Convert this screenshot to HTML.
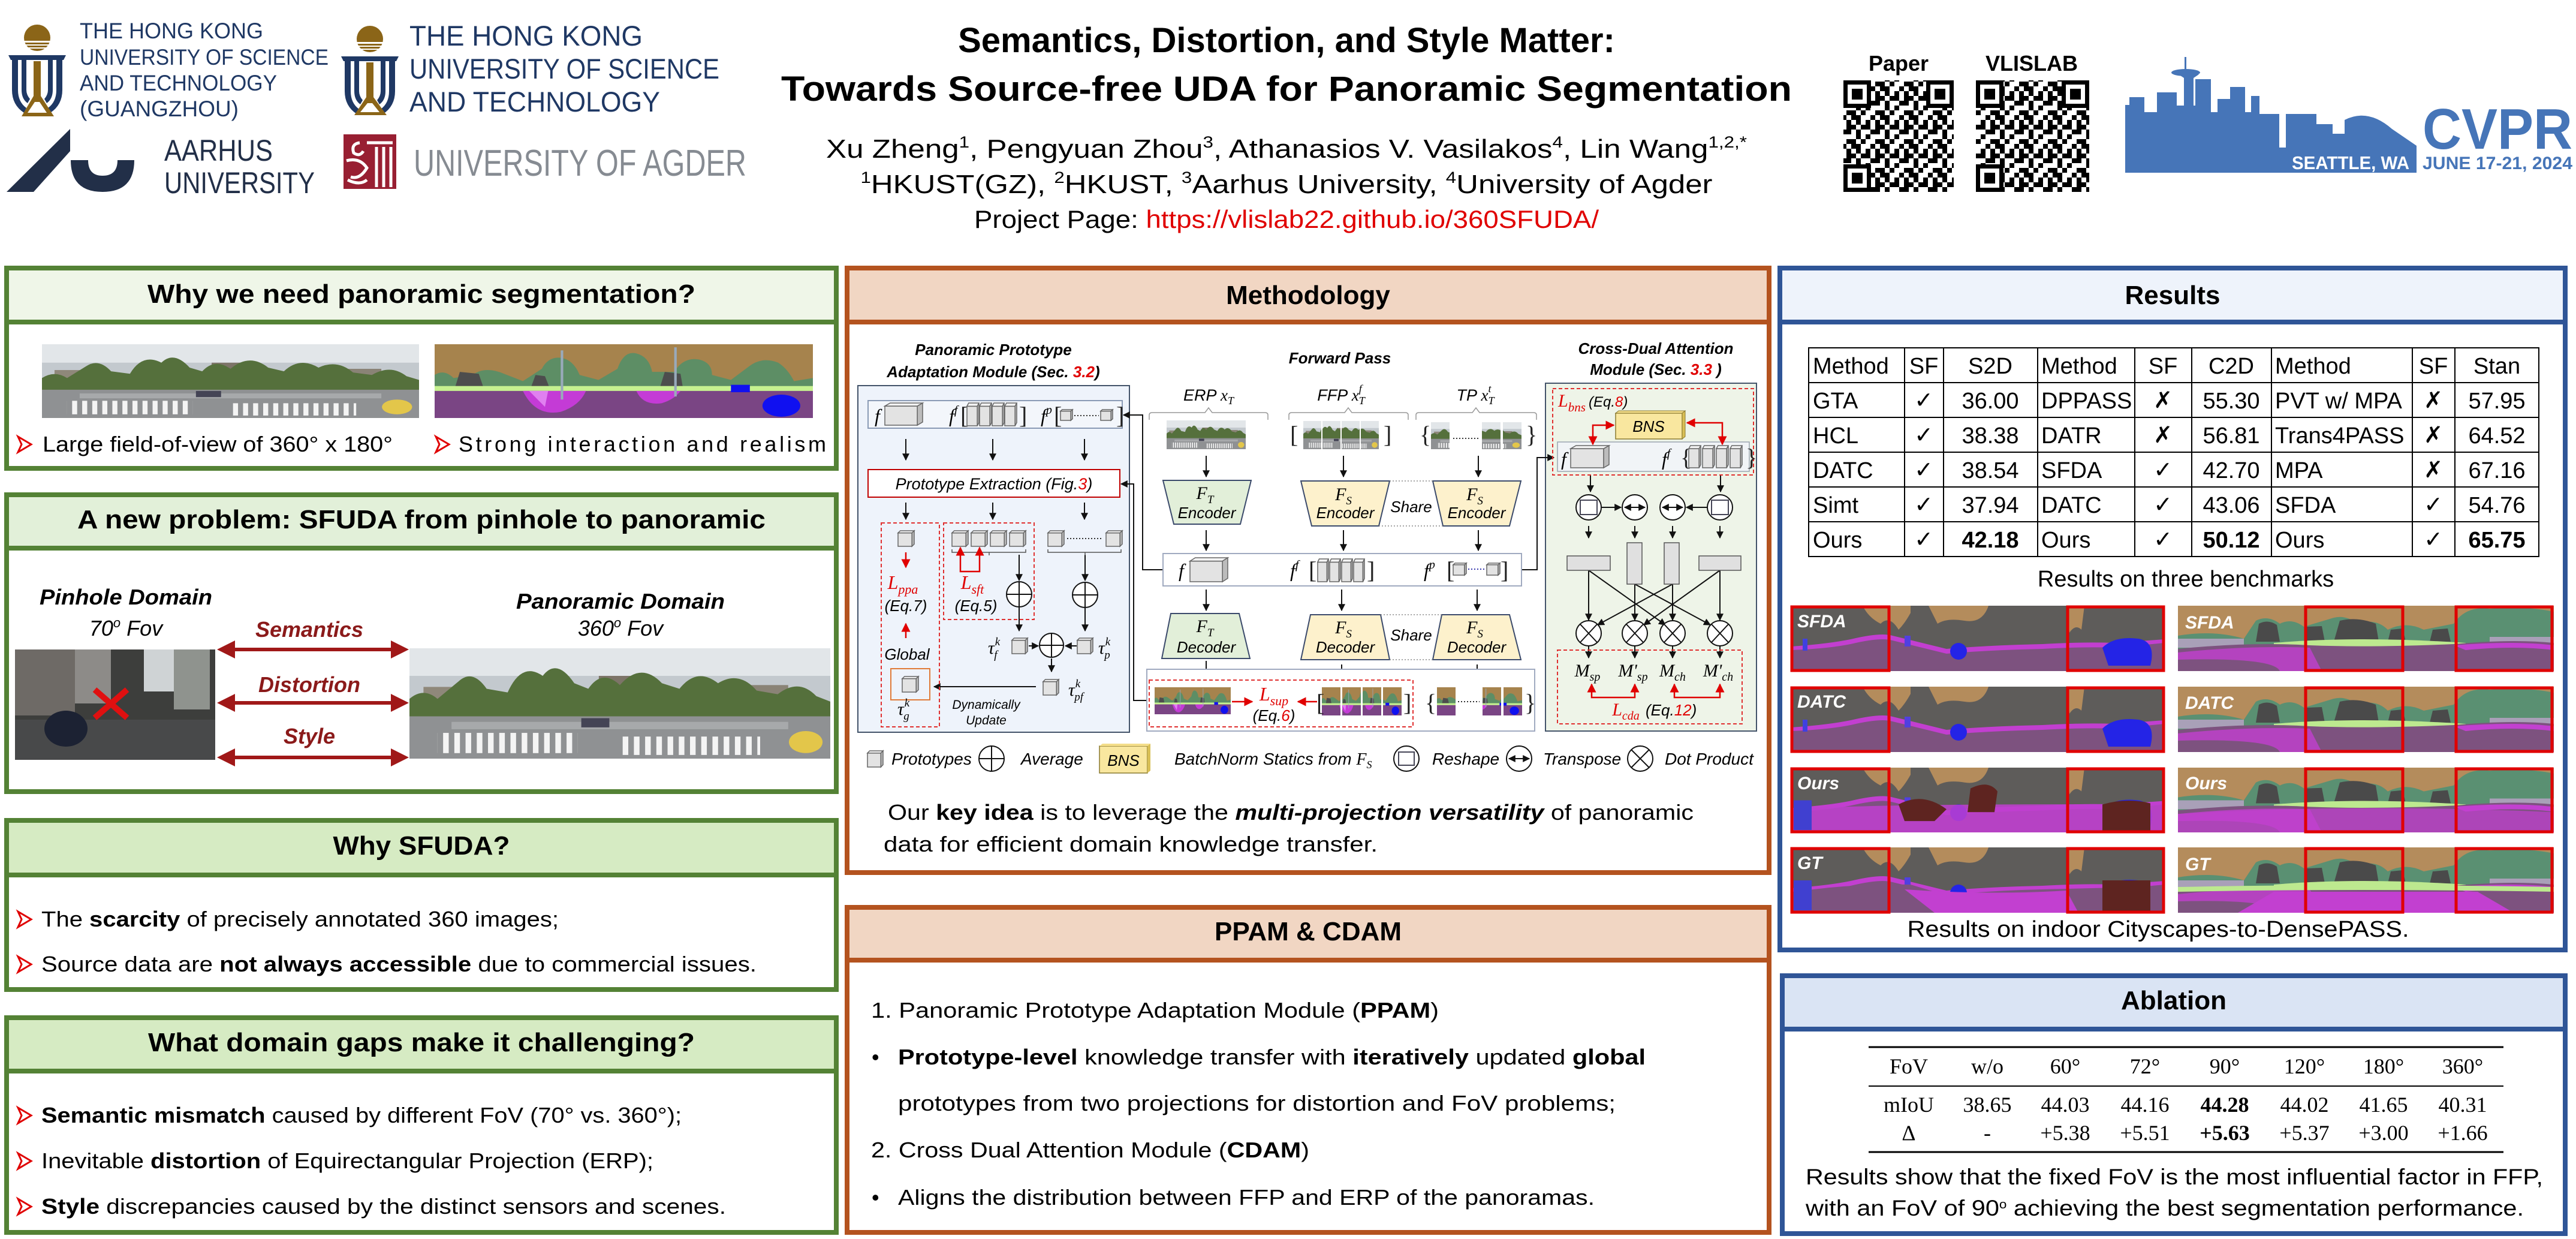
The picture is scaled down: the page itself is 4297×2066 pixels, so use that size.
<!DOCTYPE html>
<html><head><meta charset="utf-8">
<style>
html,body{margin:0;padding:0;background:#fff;}
body{width:4297px;height:2066px;position:relative;overflow:hidden;font-family:"Liberation Sans",sans-serif;}
.box{position:absolute;border:8px solid;box-sizing:border-box;background:#fff;}
.hdr{position:absolute;left:0;right:0;top:0;border-bottom:8px solid;box-sizing:border-box;}
.g{border-color:#548235}.g .hdr{border-color:#548235}
.o{border-color:#b4531f}.o .hdr{border-color:#b4531f;background:#f1d6c3}
.b{border-color:#2f5597}.b .hdr{border-color:#2f5597}
svg{position:absolute;left:0;top:0}
</style></head><body>

<div class="box g" style="left:7px;top:443px;width:1392px;height:342px"><div class="hdr" style="height:90px;background:#eff6e8"></div></div>
<div class="box g" style="left:7px;top:821px;width:1392px;height:503px"><div class="hdr" style="height:89px;background:#e2f0d9"></div></div>
<div class="box g" style="left:7px;top:1364px;width:1392px;height:290px"><div class="hdr" style="height:91px;background:#d6ebc3"></div></div>
<div class="box g" style="left:7px;top:1693px;width:1392px;height:366px"><div class="hdr" style="height:89px;background:#d6ebc3"></div></div>
<div class="box o" style="left:1409px;top:443px;width:1546px;height:1016px"><div class="hdr" style="height:90px"></div></div>
<div class="box o" style="left:1409px;top:1509px;width:1546px;height:550px"><div class="hdr" style="height:88px"></div></div>
<div class="box b" style="left:2965px;top:443px;width:1318px;height:1145px"><div class="hdr" style="height:90px;background:#eef3fb"></div></div>
<div class="box b" style="left:2969px;top:1623px;width:1314px;height:438px"><div class="hdr" style="height:89px;background:#dae4f4"></div></div>

<svg width="4297" height="2066" viewBox="0 0 4297 2066" xmlns="http://www.w3.org/2000/svg">
<defs>
<marker id="a" viewBox="0 0 10 10" refX="9" refY="5" markerWidth="6" markerHeight="6" orient="auto-start-reverse"><path d="M0,0L10,5L0,10z" fill="#111"/></marker>
<marker id="ar" viewBox="0 0 10 10" refX="9" refY="5" markerWidth="6" markerHeight="6" orient="auto-start-reverse"><path d="M0,0L10,5L0,10z" fill="#e00000"/></marker>
<marker id="ad" viewBox="0 0 10 10" refX="8" refY="5" markerWidth="5" markerHeight="5" orient="auto-start-reverse"><path d="M0,0L10,5L0,10z" fill="#a01818"/></marker>
<symbol id="cb" viewBox="0 0 100 100" preserveAspectRatio="none" overflow="visible">
<g stroke="#666" stroke-width="1.5" vector-effect="non-scaling-stroke"><path d="M0,14H86V100H0Z" fill="#e3e3e3" vector-effect="non-scaling-stroke"/><path d="M0,14L14,0H100L86,14Z" fill="#f3f3f3" vector-effect="non-scaling-stroke"/><path d="M86,14L100,0V86L86,100Z" fill="#bcbcbc" vector-effect="non-scaling-stroke"/></g></symbol>
<pattern id="zebra" width="16" height="10" patternUnits="userSpaceOnUse"><rect width="8" height="10" fill="#f4f4f4"/></pattern>
<symbol id="pano" viewBox="0 0 600 120" preserveAspectRatio="none">
<rect width="600" height="120" fill="#c3c9ce"/><rect width="600" height="30" fill="#e2e6e9"/>
<rect x="20" y="42" width="60" height="34" fill="#8f887a"/><rect x="270" y="30" width="70" height="46" fill="#7d7468"/><rect x="480" y="40" width="60" height="36" fill="#8a8376"/>
<path d="M0,76V55Q20,42 40,55L70,36Q90,22 110,44L140,48Q160,14 190,30Q210,10 235,38L255,44Q275,22 300,40Q330,14 360,38L385,44Q410,20 440,38Q470,24 495,46L525,50Q555,32 580,52L600,58V76Z" fill="#55703c"/>
<rect x="0" y="74" width="600" height="46" fill="#8f9193"/>
<rect x="40" y="92" width="200" height="22" fill="url(#zebra)"/><rect x="300" y="96" width="200" height="20" fill="url(#zebra)"/>
<rect x="60" y="80" width="480" height="8" fill="#a7a9ab"/>
<ellipse cx="565" cy="102" rx="24" ry="12" fill="#e3c64a"/><rect x="245" y="76" width="40" height="10" fill="#445"/>
</symbol>
<symbol id="segpano" viewBox="0 0 600 120" preserveAspectRatio="none">
<rect width="600" height="120" fill="#a6834d"/>
<path d="M0,80V50Q15,40 30,55L60,50Q80,35 110,48L140,60L170,40Q180,20 200,22Q220,25 230,50L260,58L290,40Q300,10 320,15Q340,20 345,45L380,45Q395,20 420,25Q440,30 440,50L470,58L500,35Q520,20 545,30Q560,40 570,60L600,55V80Z" fill="#5d8e65"/>
<path d="M30,78L40,45L70,48L80,78Z" fill="#4d4d4d"/><path d="M150,78L160,50L175,52L185,78Z" fill="#4d4d4d"/><path d="M355,78L365,45L390,48L395,78Z" fill="#4d4d4d"/>
<rect x="0" y="68" width="600" height="10" fill="#c6f190"/>
<path d="M0,76H600V120H0Z" fill="#7a4584"/>
<path d="M140,76Q160,118 200,110Q230,100 240,76Z" fill="#c43bd6"/><path d="M320,76Q330,100 360,96Q380,90 390,76Z" fill="#c43bd6"/>
<path d="M150,76L180,76L175,102Z" fill="#e080f0"/>
<ellipse cx="550" cy="100" rx="30" ry="18" fill="#1010f0"/><rect x="470" y="66" width="30" height="12" fill="#1010f0"/>
<rect x="200" y="10" width="4" height="80" fill="#9ab"/><rect x="380" y="5" width="4" height="80" fill="#9ab"/>
</symbol>
<symbol id="segL" viewBox="0 0 624 109" preserveAspectRatio="none">
<rect width="624" height="109" fill="#5e5c5a"/>
<path d="M120,0H200V12Q190,30 180,40Q165,15 150,30Q130,20 120,0Z" fill="#b48c5c"/>
<path d="M230,0H330Q320,30 290,25Q260,20 245,30Q235,10 230,0Z" fill="#b48c5c"/>
<path d="M460,0H490L485,40Q475,30 465,45Z" fill="#b48c5c"/>
<path d="M0,72Q60,70 100,62Q150,50 170,56L260,78Q330,72 420,70Q490,66 540,68L624,60V109H0Z" fill="#7d527f"/>
<path d="M0,74Q60,72 100,64Q150,52 170,58L260,80Q330,74 420,72Q490,68 540,70L624,62V56L540,62Q490,60 420,64Q330,66 260,72L170,50Q150,44 100,56Q60,64 0,68Z" fill="#c23fd0"/>
<ellipse cx="280" cy="76" rx="14" ry="14" fill="#2424e6"/><path d="M520,70Q540,50 580,55Q610,60 600,100H530Z" fill="#2424e6"/>
<rect x="20" y="55" width="8" height="20" fill="#4040e0"/><rect x="190" y="50" width="10" height="18" fill="#5040e0"/>
</symbol>
<symbol id="segR" viewBox="0 0 627 109" preserveAspectRatio="none">
<rect width="627" height="109" fill="#b48c5c"/>
<path d="M0,50Q60,40 110,55L130,25Q150,15 170,30Q190,20 210,35L260,20Q280,15 300,30Q330,20 350,40Q380,25 410,40L460,30Q480,0 520,5Q580,0 627,10V75H0Z" fill="#5a9072"/>
<path d="M130,60L135,30Q150,22 165,32L170,60Z M210,60L215,35L240,34L245,60Z M260,60L270,25Q300,18 330,30L335,60Z M350,60L355,40L375,38L380,60Z M420,60L425,40L450,38L455,60Z" fill="#4a4a4a"/>
<rect x="0" y="55" width="110" height="15" fill="#a9a0b8"/><rect x="520" y="52" width="107" height="16" fill="#a9a0b8"/>
<path d="M160,62Q300,50 480,62V76H160Z" fill="#bde98f"/>
<path d="M0,72Q120,60 220,66Q320,70 460,64Q560,55 627,62V109H0Z" fill="#7d527f"/>
<path d="M0,78Q120,66 220,70L240,109H170Q160,86 0,90Z" fill="#c240d0" opacity=".8"/><path d="M460,66Q560,58 627,66V74Q560,66 480,74Z" fill="#c240d0"/>
</symbol>
<pattern id="qr" width="48" height="48" patternUnits="userSpaceOnUse"><rect width="48" height="48" fill="#fff"/><path d="M0,0h8v8h-8z M16,0h16v8h-16z M8,8h8v16h-8z M24,8h8v8h-8z M40,8h8v16h-8z M0,24h16v8h-16z M24,24h8v16h-8z M32,16h8v8h-8z M40,32h8v8h-8z M8,40h16v8h-16z M32,40h8v8h-8z M16,16h8v8h-8z" fill="#000"/></pattern>
<g id="finder"><rect width="46" height="46" fill="#000"/><rect x="7" y="7" width="32" height="32" fill="#fff"/><rect x="14" y="14" width="18" height="18" fill="#000"/></g>
</defs>

<!-- ===== HEADER LOGOS ===== -->
<g>
<circle cx="62" cy="63" r="22" fill="#8b6518"/><rect x="40" y="68" width="44" height="3" fill="#fff"/><rect x="40" y="74" width="44" height="2" fill="#fff"/><rect x="40" y="79" width="44" height="2" fill="#fff"/>
<path d="M14,92H110L106,100H18Z" fill="#1f3864"/>
<path d="M20,100V150Q20,175 40,188L44,180Q30,170 30,150V100Z M104,100V150Q104,175 84,188L80,180Q94,170 94,150V100Z M36,100V150Q36,165 46,172L50,165Q44,158 44,150V100Z M88,100V150Q88,165 78,172L74,165Q80,158 80,150V100Z" fill="#1f3864"/>
<path d="M56,102H68V160L90,194H36L56,160Z" fill="#8b6518"/><path d="M58,170H66L78,188H46Z" fill="#fff"/>
<g fill="#1f3864" font-size="37">
<text x="133" y="64" textLength="306" lengthAdjust="spacingAndGlyphs">THE HONG KONG</text>
<text x="133" y="108" textLength="415" lengthAdjust="spacingAndGlyphs">UNIVERSITY OF SCIENCE</text>
<text x="133" y="151" textLength="329" lengthAdjust="spacingAndGlyphs">AND TECHNOLOGY</text>
<text x="133" y="194" textLength="265" lengthAdjust="spacingAndGlyphs">(GUANGZHOU)</text>
</g>
<g transform="translate(555,2)">
<circle cx="62" cy="63" r="22" fill="#8b6518"/><rect x="40" y="68" width="44" height="3" fill="#fff"/><rect x="40" y="74" width="44" height="2" fill="#fff"/><rect x="40" y="79" width="44" height="2" fill="#fff"/>
<path d="M14,92H110L106,100H18Z" fill="#1f3864"/>
<path d="M20,100V150Q20,175 40,188L44,180Q30,170 30,150V100Z M104,100V150Q104,175 84,188L80,180Q94,170 94,150V100Z M36,100V150Q36,165 46,172L50,165Q44,158 44,150V100Z M88,100V150Q88,165 78,172L74,165Q80,158 80,150V100Z" fill="#1f3864"/>
<path d="M56,102H68V160L90,190H36L56,160Z" fill="#8b6518"/><path d="M58,170H66L78,185H46Z" fill="#fff"/>
</g>
<g fill="#1f3864" font-size="47">
<text x="683" y="76" textLength="389" lengthAdjust="spacingAndGlyphs">THE HONG KONG</text>
<text x="683" y="131" textLength="517" lengthAdjust="spacingAndGlyphs">UNIVERSITY OF SCIENCE</text>
<text x="683" y="186" textLength="418" lengthAdjust="spacingAndGlyphs">AND TECHNOLOGY</text>
</g>
<path d="M11,320L117,215V252L56,320Z" fill="#222f48"/>
<path d="M118,267H147Q147,293 171,293Q196,293 196,267H224Q224,320 171,320Q118,320 118,267Z" fill="#222f48"/>
<g fill="#222f48" font-size="50"><text x="274" y="268" textLength="181" lengthAdjust="spacingAndGlyphs">AARHUS</text><text x="274" y="322" textLength="251" lengthAdjust="spacingAndGlyphs">UNIVERSITY</text></g>
<rect x="573" y="224" width="88" height="91" fill="#981f32"/>
<path d="M600,238Q585,240 590,255Q600,262 606,252 M612,238H655 M628,245V312 M640,245V312 M652,245V312 M578,268Q600,262 612,280Q600,300 585,295 M580,300Q600,310 612,300" stroke="#fff" stroke-width="5" fill="none"/>
<text x="690" y="293" font-size="62" fill="#868b92" textLength="555" lengthAdjust="spacingAndGlyphs">UNIVERSITY OF AGDER</text>
</g>

<!-- ===== TITLE ===== -->
<g text-anchor="middle">
<text x="2146" y="87" font-size="58" font-weight="bold">Semantics, Distortion, and Style Matter:</text>
<text x="2146" y="168" font-size="58" font-weight="bold" textLength="1686" lengthAdjust="spacingAndGlyphs">Towards Source-free UDA for Panoramic Segmentation</text>
<text x="2146" y="263" font-size="44" textLength="1536" lengthAdjust="spacingAndGlyphs">Xu Zheng<tspan font-size="27" dy="-17">1</tspan><tspan dy="17">, Pengyuan Zhou</tspan><tspan font-size="27" dy="-17">3</tspan><tspan dy="17">, Athanasios V. Vasilakos</tspan><tspan font-size="27" dy="-17">4</tspan><tspan dy="17">, Lin Wang</tspan><tspan font-size="27" dy="-17">1,2,*</tspan></text>
<text x="2146" y="322" font-size="44" textLength="1421" lengthAdjust="spacingAndGlyphs"><tspan font-size="27" dy="-17">1</tspan><tspan dy="17">HKUST(GZ), </tspan><tspan font-size="27" dy="-17">2</tspan><tspan dy="17">HKUST, </tspan><tspan font-size="27" dy="-17">3</tspan><tspan dy="17">Aarhus University, </tspan><tspan font-size="27" dy="-17">4</tspan><tspan dy="17">University of Agder</tspan></text>
<text x="2146" y="380" font-size="42" textLength="1042" lengthAdjust="spacingAndGlyphs">Project Page: <tspan fill="#e00000">https://vlislab22.github.io/360SFUDA/</tspan></text>
</g>

<!-- QR + CVPR -->
<text x="3167" y="118" font-size="36" font-weight="bold" text-anchor="middle">Paper</text>
<text x="3389" y="118" font-size="36" font-weight="bold" text-anchor="middle">VLISLAB</text>
<rect x="3075" y="134" width="184" height="186" fill="url(#qr)"/>
<use href="#finder" x="3075" y="134"/><use href="#finder" x="3213" y="134"/><use href="#finder" x="3075" y="274"/>
<rect x="3296" y="134" width="189" height="186" fill="url(#qr)"/>
<use href="#finder" x="3296" y="134"/><use href="#finder" x="3439" y="134"/><use href="#finder" x="3296" y="274"/>
<g fill="#4675b8">
<path d="M3545,288V175H3552V162H3577V187H3598V154H3631V176L3643,176V130L3634,124H3668L3659,130V176L3662,176V132H3688V187H3699V165H3720V145H3745V187H3755V160H3769V190H3802V246H3813V190H3864V207H3891V223H3911V200Q3950,180 3990,215L4031,243V288Z"/>
<rect x="3644" y="95" width="3" height="30"/><ellipse cx="3646" cy="121" rx="24" ry="6"/>
</g>
<text x="3921" y="282" font-size="31" font-weight="bold" fill="#fff" text-anchor="middle" textLength="196" lengthAdjust="spacingAndGlyphs">SEATTLE, WA</text>
<text x="4041" y="248" font-size="96" font-weight="bold" fill="#4675b8" textLength="250" lengthAdjust="spacingAndGlyphs">CVPR</text>
<text x="4041" y="282" font-size="30" font-weight="bold" fill="#4675b8" textLength="250" lengthAdjust="spacingAndGlyphs">JUNE 17-21, 2024</text>

<!-- ===== LEFT COLUMN ===== -->
<g font-size="44" font-weight="bold" text-anchor="middle">
<text x="703" y="505" textLength="914" lengthAdjust="spacingAndGlyphs">Why we need panoramic segmentation?</text>
<text x="703" y="881" textLength="1148" lengthAdjust="spacingAndGlyphs">A new problem: SFUDA from pinhole to panoramic</text>
<text x="703" y="1425" textLength="295" lengthAdjust="spacingAndGlyphs">Why SFUDA?</text>
<text x="703" y="1753" textLength="912" lengthAdjust="spacingAndGlyphs">What domain gaps make it challenging?</text>
<text x="2182" y="507">Methodology</text>
<text x="2182" y="1568">PPAM &amp; CDAM</text>
<text x="3624" y="507">Results</text>
<text x="3626" y="1683">Ablation</text>
</g>
<svg x="70" y="574" width="629" height="123" viewBox="0 0 600 120" preserveAspectRatio="none"><use href="#pano" width="600" height="120"/></svg>
<svg x="725" y="574" width="631" height="123" viewBox="0 0 600 120" preserveAspectRatio="none"><use href="#segpano" width="600" height="120"/></svg>
<g fill="none" stroke="#e00000" stroke-width="3"><path d="M30,728L52,741L30,754L36,741Z"/><path d="M727,728L749,741L727,754L733,741Z"/></g>
<text x="71" y="753" font-size="36" textLength="584" lengthAdjust="spacingAndGlyphs">Large field-of-view of 360° x 180°</text>
<text x="765" y="753" font-size="36" textLength="613" lengthAdjust="spacing">Strong interaction and realism</text>

<text x="66" y="1008" font-size="36" font-weight="bold" font-style="italic" textLength="288" lengthAdjust="spacingAndGlyphs">Pinhole Domain</text>
<text x="210" y="1060" font-size="36" font-style="italic" text-anchor="middle">70<tspan font-size="22" dy="-14">o</tspan><tspan dy="14"> Fov</tspan></text>
<text x="861" y="1015" font-size="36" font-weight="bold" font-style="italic" textLength="348" lengthAdjust="spacingAndGlyphs">Panoramic Domain</text>
<text x="1035" y="1060" font-size="36" font-style="italic" text-anchor="middle">360<tspan font-size="22" dy="-14">o</tspan><tspan dy="14"> Fov</tspan></text>
<g font-size="36" font-weight="bold" font-style="italic" fill="#8b1a1a" text-anchor="middle"><text x="516" y="1062">Semantics</text><text x="516" y="1154">Distortion</text><text x="516" y="1240">Style</text></g>
<g stroke="#a01818" stroke-width="6" marker-start="url(#ad)" marker-end="url(#ad)"><line x1="368" y1="1083" x2="676" y2="1083"/><line x1="368" y1="1172" x2="676" y2="1172"/><line x1="368" y1="1263" x2="676" y2="1263"/></g>
<rect x="25" y="1083" width="334" height="184" fill="#3d3e3c"/>
<rect x="25" y="1083" width="100" height="110" fill="#6e6a66"/><rect x="125" y="1083" width="60" height="90" fill="#8d8b88"/><rect x="240" y="1083" width="60" height="70" fill="#cfd3d5"/><rect x="290" y="1083" width="60" height="100" fill="#8f938e"/>
<path d="M25,1200H359V1267H25Z" fill="#48494a"/><ellipse cx="110" cy="1215" rx="36" ry="30" fill="#1c2233"/>
<path d="M158,1150L212,1197M212,1150L158,1197" stroke="#e01010" stroke-width="10"/>
<svg x="683" y="1081" width="702" height="184" viewBox="0 0 600 120" preserveAspectRatio="none"><use href="#pano" width="600" height="120"/></svg>

<g fill="none" stroke="#e00000" stroke-width="3"><path d="M30,1520L52,1533L30,1546L36,1533Z"/><path d="M30,1595L52,1608L30,1621L36,1608Z"/><path d="M30,1847L52,1860L30,1873L36,1860Z"/><path d="M30,1923L52,1936L30,1949L36,1936Z"/><path d="M30,1999L52,2012L30,2025L36,2012Z"/></g>
<g font-size="36">
<text x="69" y="1545" textLength="863" lengthAdjust="spacingAndGlyphs">The <tspan font-weight="bold">scarcity</tspan> of precisely annotated 360 images;</text>
<text x="69" y="1620" textLength="1193" lengthAdjust="spacingAndGlyphs">Source data are <tspan font-weight="bold">not always accessible</tspan> due to commercial issues.</text>
<text x="69" y="1872" textLength="1068" lengthAdjust="spacingAndGlyphs"><tspan font-weight="bold">Semantic mismatch</tspan> caused by different FoV (70° vs. 360°);</text>
<text x="69" y="1948" textLength="1021" lengthAdjust="spacingAndGlyphs">Inevitable <tspan font-weight="bold">distortion</tspan> of Equirectangular Projection (ERP);</text>
<text x="69" y="2024" textLength="1142" lengthAdjust="spacingAndGlyphs"><tspan font-weight="bold">Style</tspan> discrepancies caused by the distinct sensors and scenes.</text>
</g>

<!-- ===== METHODOLOGY DIAGRAM ===== -->
<g font-style="italic" font-weight="bold" font-size="26" text-anchor="middle">
<text x="1657" y="592">Panoramic Prototype</text>
<text x="1657" y="629">Adaptation Module (Sec. <tspan fill="#e00000">3.2</tspan>)</text>
<text x="2235" y="606">Forward Pass</text>
<text x="2762" y="590">Cross-Dual Attention</text>
<text x="2762" y="625">Module (Sec. <tspan fill="#e00000">3.3</tspan> )</text>
</g>
<rect x="1431" y="643" width="453" height="578" fill="#eef3fb" stroke="#44546a" stroke-width="2"/>
<rect x="2578" y="639" width="352" height="580" fill="#eef4e8" stroke="#44546a" stroke-width="2"/>
<rect x="1448" y="668" width="424" height="46" fill="#f3f6fb" stroke="#8a9ab5" stroke-width="2"/>
<g font-family="Liberation Serif,serif" font-style="italic" font-size="32">
<text x="1459" y="704">f</text><text x="1583" y="704">f<tspan font-size="20" dy="-14">f</tspan></text><text x="1736" y="704">f<tspan font-size="20" dy="-14">p</tspan></text>
</g>
<g font-family="Liberation Serif,serif" font-size="40" fill="#222">
<text x="1602" y="706">[</text><text x="1700" y="706">]</text><text x="1758" y="706">[</text><text x="1862" y="706">]</text>
</g>
<use href="#cb" x="1476" y="672" width="63" height="37"/>
<use href="#cb" x="1613" y="672" width="20" height="38"/><use href="#cb" x="1634" y="672" width="20" height="38"/><use href="#cb" x="1655" y="672" width="20" height="38"/><use href="#cb" x="1676" y="672" width="20" height="38"/>
<use href="#cb" x="1769" y="683" width="20" height="18"/><use href="#cb" x="1836" y="683" width="20" height="18"/>
<line x1="1792" y1="693" x2="1833" y2="693" stroke="#333" stroke-width="2" stroke-dasharray="2,3"/>
<g stroke="#111" stroke-width="2" marker-end="url(#a)">
<line x1="1511" y1="732" x2="1511" y2="767"/><line x1="1656" y1="732" x2="1656" y2="767"/><line x1="1809" y1="732" x2="1809" y2="767"/>
<line x1="1511" y1="838" x2="1511" y2="866"/><line x1="1656" y1="838" x2="1656" y2="866"/><line x1="1809" y1="838" x2="1809" y2="866"/>
<line x1="1700" y1="925" x2="1700" y2="968"/><line x1="1700" y1="1013" x2="1700" y2="1052"/>
<line x1="1810" y1="925" x2="1810" y2="968"/><line x1="1810" y1="1014" x2="1810" y2="1052"/>
<line x1="1716" y1="1077" x2="1732" y2="1077"/><line x1="1796" y1="1077" x2="1777" y2="1077"/>
<line x1="1754" y1="1098" x2="1754" y2="1120"/><line x1="1728" y1="1145" x2="1558" y2="1145"/>
<line x1="2012" y1="760" x2="2012" y2="795"/><line x1="2012" y1="884" x2="2012" y2="918"/><line x1="2012" y1="983" x2="2012" y2="1018"/><line x1="2012" y1="1102" x2="2012" y2="1136"/>
<line x1="2241" y1="760" x2="2241" y2="795"/><line x1="2466" y1="760" x2="2466" y2="795"/>
<line x1="2241" y1="884" x2="2241" y2="918"/><line x1="2466" y1="884" x2="2466" y2="918"/>
<line x1="2238" y1="983" x2="2238" y2="1018"/><line x1="2464" y1="983" x2="2464" y2="1018"/>
<line x1="2238" y1="1108" x2="2238" y2="1140"/><line x1="2464" y1="1108" x2="2464" y2="1140"/>
<polyline points="1940,950 1906,950 1906,692 1874,692" fill="none"/>
<polyline points="1913,1168 1891,1168 1891,807 1870,807" fill="none"/>
<polyline points="2538,950 2564,950 2564,763 2592,763" fill="none"/>
<line x1="2653" y1="793" x2="2653" y2="820"/><line x1="2870" y1="793" x2="2870" y2="820"/>
<line x1="2672" y1="846" x2="2704" y2="846"/><line x1="2848" y1="846" x2="2813" y2="846"/>
<line x1="2650" y1="877" x2="2650" y2="897"/><line x1="2727" y1="877" x2="2727" y2="897"/><line x1="2790" y1="877" x2="2790" y2="897"/><line x1="2869" y1="877" x2="2869" y2="897"/>
<line x1="2650" y1="951" x2="2650" y2="1034"/><line x1="2727" y1="974" x2="2727" y2="1034"/><line x1="2790" y1="974" x2="2790" y2="1034"/><line x1="2869" y1="951" x2="2869" y2="1034"/>
<line x1="2650" y1="951" x2="2778" y2="1042"/><line x1="2727" y1="974" x2="2853" y2="1042"/><line x1="2790" y1="974" x2="2665" y2="1042"/><line x1="2869" y1="951" x2="2742" y2="1042"/>
<line x1="2650" y1="1077" x2="2650" y2="1097"/><line x1="2727" y1="1077" x2="2727" y2="1097"/><line x1="2790" y1="1077" x2="2790" y2="1097"/><line x1="2869" y1="1077" x2="2869" y2="1097"/>
</g>
<rect x="1448" y="783" width="420" height="46" fill="#fff" stroke="#c00000" stroke-width="2"/>
<text x="1658" y="816" font-size="27" font-style="italic" text-anchor="middle">Prototype Extraction (Fig.<tspan fill="#e00000">3</tspan>)</text>
<g fill="none" stroke="#e03030" stroke-width="2" stroke-dasharray="6,4">
<rect x="1470" y="872" width="97" height="340"/><rect x="1574" y="872" width="151" height="161"/>
<rect x="2590" y="648" width="335" height="144"/><rect x="2598" y="1084" width="308" height="123"/>
</g>
<use href="#cb" x="1498" y="885" width="27" height="26"/>
<use href="#cb" x="1588" y="885" width="27" height="26"/><use href="#cb" x="1620" y="885" width="27" height="26"/><use href="#cb" x="1652" y="885" width="27" height="26"/><use href="#cb" x="1684" y="885" width="27" height="26"/>
<use href="#cb" x="1748" y="885" width="27" height="26"/><use href="#cb" x="1845" y="885" width="27" height="26"/>
<line x1="1780" y1="898" x2="1838" y2="898" stroke="#333" stroke-width="2" stroke-dasharray="2,3"/>
<g fill="none" stroke="#555" stroke-width="1.5"><path d="M1588,916V921H1711V916M1650,921V926"/><path d="M1748,916V921H1870V916M1810,921V926"/></g>
<g stroke="#e00000" stroke-width="2.5" fill="none" marker-end="url(#ar)"><line x1="1511" y1="921" x2="1511" y2="946"/><line x1="1511" y1="1064" x2="1511" y2="1040"/></g>
<polyline points="1602,913 1602,953 1634,953 1634,913" fill="none" stroke="#e00000" stroke-width="2.5" marker-start="url(#ar)" marker-end="url(#ar)"/>
<g font-family="Liberation Serif,serif" font-style="italic" fill="#e00000" font-size="32" text-anchor="middle">
<text x="1506" y="982">L<tspan font-size="22" dy="8">ppa</tspan></text><text x="1622" y="982">L<tspan font-size="22" dy="8">sft</tspan></text>
</g>
<g font-style="italic" font-size="26" text-anchor="middle"><text x="1511" y="1019">(Eq.7)</text><text x="1628" y="1019">(Eq.5)</text><text x="1513" y="1100">Global</text>
<text x="1645" y="1182" font-size="21">Dynamically</text><text x="1645" y="1208" font-size="21">Update</text></g>
<g fill="#fff" stroke="#111" stroke-width="2"><circle cx="1700" cy="991" r="21"/><circle cx="1810" cy="992" r="21"/><circle cx="1754" cy="1076" r="20"/></g>
<path d="M1679,991H1721M1700,970V1012M1789,992H1831M1810,971V1013M1734,1076H1774M1754,1056V1096" stroke="#111" stroke-width="2"/>
<use href="#cb" x="1688" y="1064" width="26" height="26"/><use href="#cb" x="1797" y="1064" width="26" height="26"/><use href="#cb" x="1740" y="1133" width="26" height="26"/>
<rect x="1486" y="1115" width="65" height="52" fill="none" stroke="#e07b39" stroke-width="2"/><use href="#cb" x="1505" y="1128" width="27" height="26"/>
<g font-family="Liberation Serif,serif" font-style="italic" font-size="30">
<text x="1648" y="1090">τ<tspan font-size="19" dx="1" dy="-14">k</tspan><tspan font-size="19" dx="-10" dy="22">f</tspan></text>
<text x="1832" y="1090">τ<tspan font-size="19" dx="1" dy="-14">k</tspan><tspan font-size="19" dx="-10" dy="22">p</tspan></text>
<text x="1782" y="1160">τ<tspan font-size="19" dx="1" dy="-14">k</tspan><tspan font-size="19" dx="-10" dy="22">pf</tspan></text>
<text x="1497" y="1192">τ<tspan font-size="19" dx="1" dy="-14">k</tspan><tspan font-size="19" dx="-10" dy="22">g</tspan></text>
</g>
<g font-style="italic" font-size="27" text-anchor="middle">
<text x="2016" y="668">ERP <tspan font-family="Liberation Serif,serif">x<tspan font-size="18" dy="6">T</tspan></tspan></text>
<text x="2237" y="668">FFP <tspan font-family="Liberation Serif,serif">x<tspan font-size="18" dy="6">T</tspan><tspan font-size="18" dx="-10" dy="-20">f</tspan></tspan></text>
<text x="2461" y="668">TP <tspan font-family="Liberation Serif,serif">x<tspan font-size="18" dy="6">T</tspan><tspan font-size="18" dx="-10" dy="-20">t</tspan></tspan></text>
</g>
<g fill="none" stroke="#999" stroke-width="1.5">
<path d="M1917,700V692Q1917,688 1922,688H2010L2016,680L2022,688H2110Q2115,688 2115,692V700"/>
<path d="M2150,700V692Q2150,688 2155,688H2243L2249,680L2255,688H2344Q2349,688 2349,692V700"/>
<path d="M2362,700V692Q2362,688 2367,688H2456L2462,680L2468,688H2558Q2563,688 2563,692V700"/>
</g>
<svg x="1946" y="701" width="132" height="48" viewBox="0 0 600 120" preserveAspectRatio="none"><use href="#pano" width="600" height="120"/></svg>
<svg x="2174" y="702" width="30" height="47" viewBox="0 0 150 120" preserveAspectRatio="none"><use href="#pano" width="600" height="120"/></svg>
<svg x="2206" y="702" width="30" height="47" viewBox="150 0 150 120" preserveAspectRatio="none"><use href="#pano" width="600" height="120"/></svg>
<svg x="2238" y="702" width="30" height="47" viewBox="300 0 150 120" preserveAspectRatio="none"><use href="#pano" width="600" height="120"/></svg>
<svg x="2270" y="702" width="30" height="47" viewBox="450 0 150 120" preserveAspectRatio="none"><use href="#pano" width="600" height="120"/></svg>
<svg x="2387" y="704" width="31" height="45" viewBox="0 0 120 120" preserveAspectRatio="none"><use href="#pano" width="600" height="120"/></svg>
<svg x="2472" y="704" width="31" height="45" viewBox="360 0 120 120" preserveAspectRatio="none"><use href="#pano" width="600" height="120"/></svg>
<svg x="2507" y="704" width="31" height="45" viewBox="480 0 120 120" preserveAspectRatio="none"><use href="#pano" width="600" height="120"/></svg>
<line x1="2424" y1="731" x2="2466" y2="731" stroke="#333" stroke-width="2" stroke-dasharray="2,3"/>
<g stroke="#3b4a6b" stroke-width="2">
<polygon points="1940,801 2087,801 2069,874 1958,874" fill="#e2efd9"/>
<polygon points="1953,1023 2067,1023 2085,1098 1938,1098" fill="#e2efd9"/>
<polygon points="2170,802 2318,802 2300,877 2188,877" fill="#fdf1cc"/>
<polygon points="2390,802 2537,802 2518,877 2407,877" fill="#fdf1cc"/>
<polygon points="2186,1025 2303,1025 2318,1100 2170,1100" fill="#fdf1cc"/>
<polygon points="2405,1025 2518,1025 2537,1100 2390,1100" fill="#fdf1cc"/>
</g>
<g stroke="#888" stroke-width="1.5" stroke-dasharray="2,3"><line x1="2318" y1="802" x2="2390" y2="802"/><line x1="2300" y1="877" x2="2407" y2="877"/><line x1="2303" y1="1025" x2="2405" y2="1025"/><line x1="2318" y1="1100" x2="2390" y2="1100"/></g>
<g font-family="Liberation Serif,serif" font-style="italic" font-size="30" text-anchor="middle">
<text x="2010" y="832">F<tspan font-size="19" dy="7">T</tspan></text><text x="2010" y="1054">F<tspan font-size="19" dy="7">T</tspan></text>
<text x="2241" y="834">F<tspan font-size="19" dy="7">S</tspan></text><text x="2460" y="834">F<tspan font-size="19" dy="7">S</tspan></text>
<text x="2241" y="1056">F<tspan font-size="19" dy="7">S</tspan></text><text x="2460" y="1056">F<tspan font-size="19" dy="7">S</tspan></text>
</g>
<g font-style="italic" font-size="26" text-anchor="middle">
<text x="2013" y="864">Encoder</text><text x="2012" y="1088">Decoder</text>
<text x="2244" y="864">Encoder</text><text x="2463" y="864">Encoder</text><text x="2244" y="1088">Decoder</text><text x="2463" y="1088">Decoder</text>
<text x="2354" y="854">Share</text><text x="2354" y="1068">Share</text>
</g>
<rect x="1940" y="923" width="598" height="54" fill="#fff" stroke="#a0aac0" stroke-width="2"/>
<g font-family="Liberation Serif,serif" font-style="italic" font-size="32"><text x="1966" y="962">f</text><text x="2152" y="962">f<tspan font-size="20" dy="-14">f</tspan></text><text x="2375" y="962">f<tspan font-size="20" dy="-14">p</tspan></text></g>
<g font-family="Liberation Serif,serif" font-size="40" fill="#222"><text x="2183" y="964">[</text><text x="2280" y="964">]</text><text x="2413" y="964">[</text><text x="2503" y="964">]</text></g>
<use href="#cb" x="1985" y="930" width="63" height="40"/>
<use href="#cb" x="2198" y="932" width="18" height="38"/><use href="#cb" x="2218" y="932" width="18" height="38"/><use href="#cb" x="2238" y="932" width="18" height="38"/><use href="#cb" x="2258" y="932" width="18" height="38"/>
<use href="#cb" x="2424" y="939" width="22" height="20"/><use href="#cb" x="2480" y="939" width="22" height="20"/>
<line x1="2449" y1="949" x2="2477" y2="949" stroke="#33a" stroke-width="2" stroke-dasharray="2,3"/>
<rect x="1913" y="1116" width="647" height="103" fill="#fff" stroke="#a0aac0" stroke-width="2"/>
<rect x="1917" y="1134" width="440" height="78" fill="none" stroke="#e03030" stroke-width="2" stroke-dasharray="6,4"/>
<svg x="1926" y="1146" width="127" height="45" viewBox="0 0 600 120" preserveAspectRatio="none"><use href="#segpano" width="600" height="120"/></svg>
<svg x="2205" y="1146" width="31" height="47" viewBox="0 0 150 120" preserveAspectRatio="none"><use href="#segpano" width="600" height="120"/></svg>
<svg x="2239" y="1146" width="31" height="47" viewBox="150 0 150 120" preserveAspectRatio="none"><use href="#segpano" width="600" height="120"/></svg>
<svg x="2273" y="1146" width="31" height="47" viewBox="300 0 150 120" preserveAspectRatio="none"><use href="#segpano" width="600" height="120"/></svg>
<svg x="2307" y="1146" width="31" height="47" viewBox="450 0 150 120" preserveAspectRatio="none"><use href="#segpano" width="600" height="120"/></svg>
<svg x="2397" y="1146" width="31" height="47" viewBox="0 0 120 120" preserveAspectRatio="none"><use href="#segpano" width="600" height="120"/></svg>
<svg x="2473" y="1146" width="31" height="47" viewBox="360 0 120 120" preserveAspectRatio="none"><use href="#segpano" width="600" height="120"/></svg>
<svg x="2508" y="1146" width="31" height="47" viewBox="480 0 120 120" preserveAspectRatio="none"><use href="#segpano" width="600" height="120"/></svg>
<line x1="2432" y1="1170" x2="2468" y2="1170" stroke="#333" stroke-width="2" stroke-dasharray="2,3"/>
<g font-family="Liberation Serif,serif" font-size="40" fill="#222"><text x="2196" y="1185">[</text><text x="2341" y="1185">]</text><text x="2377" y="1185">{</text><text x="2543" y="1185">}</text>
<text x="2152" y="738">[</text><text x="2308" y="738">]</text><text x="2368" y="738">{</text><text x="2545" y="738">}</text></g>
<g stroke="#e00000" stroke-width="2.5" marker-end="url(#ar)"><line x1="2055" y1="1170" x2="2089" y2="1170"/><line x1="2197" y1="1170" x2="2165" y2="1170"/></g>
<text x="2125" y="1168" font-family="Liberation Serif,serif" font-style="italic" font-size="32" fill="#e00000" text-anchor="middle">L<tspan font-size="22" dy="8">sup</tspan></text>
<text x="2125" y="1202" font-style="italic" font-size="26" text-anchor="middle">(Eq.<tspan fill="#e00000">6</tspan>)</text>
<text x="2599" y="678" font-family="Liberation Serif,serif" font-style="italic" font-size="30" fill="#e00000">L<tspan font-size="21" dy="8">bns</tspan></text>
<text x="2650" y="678" font-style="italic" font-size="24">(Eq.<tspan fill="#e00000">8</tspan>)</text>
<rect x="2695" y="689" width="111" height="43" fill="#f9e79f" stroke="#8a7a30" stroke-width="1.5"/>
<path d="M2695,689L2700,685H2811L2806,689Z" fill="#f4de8a" stroke="#8a7a30" stroke-width="1"/><path d="M2806,689L2811,685V728L2806,732Z" fill="#d9bf55" stroke="#8a7a30" stroke-width="1"/>
<text x="2750" y="720" font-style="italic" font-size="26" text-anchor="middle">BNS</text>
<rect x="2598" y="737" width="320" height="49" fill="#f1f4f7" stroke="#9aa4b0" stroke-width="1.5"/>
<g font-family="Liberation Serif,serif" font-style="italic" font-size="32"><text x="2604" y="776">f</text><text x="2772" y="776">f<tspan font-size="20" dy="-14">f</tspan></text></g>
<g font-family="Liberation Serif,serif" font-size="40" fill="#222"><text x="2803" y="776">{</text><text x="2912" y="776">}</text></g>
<use href="#cb" x="2620" y="743" width="64" height="37"/>
<use href="#cb" x="2817" y="743" width="20" height="37"/><use href="#cb" x="2840" y="743" width="20" height="37"/><use href="#cb" x="2863" y="743" width="20" height="37"/><use href="#cb" x="2886" y="743" width="20" height="37"/>
<g fill="none" stroke="#e00000" stroke-width="2.5" marker-start="url(#ar)" marker-end="url(#ar)"><polyline points="2692,709 2657,709 2657,741"/><polyline points="2814,705 2873,705 2873,741"/>
<polyline points="2655,1141 2655,1163 2727,1163 2727,1141"/><polyline points="2793,1141 2793,1163 2869,1163 2869,1141"/></g>
<g fill="#fff" stroke="#111" stroke-width="2"><circle cx="2650" cy="846" r="21"/><circle cx="2727" cy="846" r="21"/><circle cx="2790" cy="846" r="21"/><circle cx="2869" cy="846" r="21"/>
<circle cx="2650" cy="1056" r="21"/><circle cx="2727" cy="1056" r="21"/><circle cx="2790" cy="1056" r="21"/><circle cx="2869" cy="1056" r="21"/></g>
<g stroke="#111" stroke-width="2" fill="none"><rect x="2636" y="834" width="28" height="24" stroke="#445"/><rect x="2855" y="834" width="28" height="24" stroke="#445"/>
<path d="M2636,1041L2664,1071M2664,1041L2636,1071M2713,1041L2741,1071M2741,1041L2713,1071M2776,1041L2804,1071M2804,1041L2776,1071M2855,1041L2883,1071M2883,1041L2855,1071"/>
<line x1="2710" y1="846" x2="2744" y2="846" marker-start="url(#a)" marker-end="url(#a)"/><line x1="2773" y1="846" x2="2807" y2="846" marker-start="url(#a)" marker-end="url(#a)"/></g>
<g fill="#e0e0e0" stroke="#555" stroke-width="1.5"><rect x="2614" y="927" width="72" height="24"/><rect x="2834" y="927" width="70" height="24"/><rect x="2714" y="905" width="25" height="69"/><rect x="2776" y="905" width="25" height="69"/></g>
<g font-family="Liberation Serif,serif" font-style="italic" font-size="30" text-anchor="middle">
<text x="2648" y="1128">M<tspan font-size="20" dy="7">sp</tspan></text><text x="2724" y="1128">M'<tspan font-size="20" dy="7">sp</tspan></text>
<text x="2790" y="1128">M<tspan font-size="20" dy="7">ch</tspan></text><text x="2866" y="1128">M'<tspan font-size="20" dy="7">ch</tspan></text>
<text x="2712" y="1193" fill="#e00000">L<tspan font-size="20" dy="7">cda</tspan></text></g>
<text x="2745" y="1193" font-style="italic" font-size="26">(Eq.<tspan fill="#e00000">12</tspan>)</text>
<use href="#cb" x="1447" y="1252" width="26" height="27"/>
<g font-style="italic" font-size="28"><text x="1487" y="1275">Prototypes</text><text x="1703" y="1275">Average</text><text x="1959" y="1275">BatchNorm Statics from <tspan font-family="Liberation Serif,serif">F<tspan font-size="18" dy="6">S</tspan></tspan></text>
<text x="2389" y="1275">Reshape</text><text x="2574" y="1275">Transpose</text><text x="2777" y="1275">Dot Product</text></g>
<g fill="#fff" stroke="#111" stroke-width="2"><circle cx="1654" cy="1265" r="21"/><circle cx="2346" cy="1265" r="21"/><circle cx="2534" cy="1265" r="21"/><circle cx="2736" cy="1265" r="21"/></g>
<path d="M1633,1265H1675M1654,1244V1286M2721,1250L2751,1280M2751,1250L2721,1280" stroke="#111" stroke-width="2"/>
<rect x="2333" y="1254" width="26" height="22" fill="none" stroke="#445" stroke-width="2"/>
<line x1="2517" y1="1265" x2="2551" y2="1265" stroke="#111" stroke-width="2" marker-start="url(#a)" marker-end="url(#a)"/>
<rect x="1834" y="1244" width="80" height="45" fill="#f9e79f" stroke="#8a7a30" stroke-width="1.5"/>
<path d="M1914,1244L1919,1240V1285L1914,1289Z" fill="#d9bf55"/><path d="M1834,1244L1839,1240H1919L1914,1244Z" fill="#f4de8a"/>
<text x="1874" y="1277" font-style="italic" font-size="26" text-anchor="middle">BNS</text>

<g font-size="36">
<text x="1481" y="1367" textLength="1344" lengthAdjust="spacingAndGlyphs">Our <tspan font-weight="bold">key idea</tspan> is to leverage the <tspan font-weight="bold" font-style="italic">multi-projection versatility</tspan> of panoramic</text>
<text x="1474" y="1420" textLength="824" lengthAdjust="spacingAndGlyphs">data for efficient domain knowledge transfer.</text>
<text x="1453" y="1697" textLength="947" lengthAdjust="spacingAndGlyphs">1.  Panoramic Prototype Adaptation Module (<tspan font-weight="bold">PPAM</tspan>)</text>
<text x="1454" y="1775">•</text>
<text x="1498" y="1775" textLength="1247" lengthAdjust="spacingAndGlyphs"><tspan font-weight="bold">Prototype-level</tspan> knowledge transfer with <tspan font-weight="bold">iteratively</tspan> updated <tspan font-weight="bold">global</tspan></text>
<text x="1498" y="1852" textLength="1197" lengthAdjust="spacingAndGlyphs">prototypes from two projections for distortion and FoV problems;</text>
<text x="1453" y="1930" textLength="731" lengthAdjust="spacingAndGlyphs">2. Cross Dual Attention Module (<tspan font-weight="bold">CDAM</tspan>)</text>
<text x="1454" y="2009">•</text>
<text x="1498" y="2009" textLength="1162" lengthAdjust="spacingAndGlyphs">Aligns the distribution between FFP and ERP of the panoramas.</text>
</g>

<!-- ===== RESULTS TABLE ===== -->
<g stroke="#000" stroke-width="2" fill="none">
<rect x="3017" y="580" width="1218" height="348"/>
<path d="M3017,638H4235M3017,696H4235M3017,754H4235M3017,812H4235M3017,870H4235"/>
<path d="M3177,580V928M3242,580V928M3399,580V928M3561,580V928M3656,580V928M3789,580V928M4024,580V928M4095,580V928"/>
</g>
<g font-size="38">
<g><text x="3024" y="623">Method</text><text x="3209" y="623" text-anchor="middle">SF</text><text x="3320" y="623" text-anchor="middle">S2D</text><text x="3405" y="623">Method</text><text x="3608" y="623" text-anchor="middle">SF</text><text x="3722" y="623" text-anchor="middle">C2D</text><text x="3795" y="623">Method</text><text x="4059" y="623" text-anchor="middle">SF</text><text x="4165" y="623" text-anchor="middle">Stan</text></g>
<g><text x="3024" y="681">GTA</text><text x="3320" y="681" text-anchor="middle">36.00</text><text x="3405" y="681">DPPASS</text><text x="3722" y="681" text-anchor="middle">55.30</text><text x="3795" y="681">PVT w/ MPA</text><text x="4165" y="681" text-anchor="middle">57.95</text></g>
<g><text x="3024" y="739">HCL</text><text x="3320" y="739" text-anchor="middle">38.38</text><text x="3405" y="739">DATR</text><text x="3722" y="739" text-anchor="middle">56.81</text><text x="3795" y="739">Trans4PASS</text><text x="4165" y="739" text-anchor="middle">64.52</text></g>
<g><text x="3024" y="797">DATC</text><text x="3320" y="797" text-anchor="middle">38.54</text><text x="3405" y="797">SFDA</text><text x="3722" y="797" text-anchor="middle">42.70</text><text x="3795" y="797">MPA</text><text x="4165" y="797" text-anchor="middle">67.16</text></g>
<g><text x="3024" y="855">Simt</text><text x="3320" y="855" text-anchor="middle">37.94</text><text x="3405" y="855">DATC</text><text x="3722" y="855" text-anchor="middle">43.06</text><text x="3795" y="855">SFDA</text><text x="4165" y="855" text-anchor="middle">54.76</text></g>
<g><text x="3024" y="913">Ours</text><text x="3320" y="913" text-anchor="middle" font-weight="bold">42.18</text><text x="3405" y="913">Ours</text><text x="3722" y="913" text-anchor="middle" font-weight="bold">50.12</text><text x="3795" y="913">Ours</text><text x="4165" y="913" text-anchor="middle" font-weight="bold">65.75</text></g>
</g>
<g font-family="DejaVu Sans,sans-serif" font-size="38" text-anchor="middle">
<text x="3209" y="680">✓</text><text x="3209" y="738">✓</text><text x="3209" y="796">✓</text><text x="3209" y="854">✓</text><text x="3209" y="912">✓</text>
<text x="3608" y="680">✗</text><text x="3608" y="738">✗</text><text x="3608" y="796">✓</text><text x="3608" y="854">✓</text><text x="3608" y="912">✓</text>
<text x="4059" y="680">✗</text><text x="4059" y="738">✗</text><text x="4059" y="796">✗</text><text x="4059" y="854">✓</text><text x="4059" y="912">✓</text>
</g>
<text x="3646" y="978" font-size="38" text-anchor="middle">Results on three benchmarks</text>

<g>
<svg x="2987" y="1010" width="624" height="109" viewBox="0 0 624 109" preserveAspectRatio="none"><use href="#segL" width="624" height="109"/></svg>
<svg x="2987" y="1145" width="624" height="109" viewBox="0 0 624 109" preserveAspectRatio="none"><use href="#segL" width="624" height="109"/></svg>
<svg x="2987" y="1280" width="624" height="108" viewBox="0 0 624 109" preserveAspectRatio="none"><use href="#segL" width="624" height="109"/><path d="M0,70Q150,60 624,62V109H0Z" fill="#c040d0" opacity=".85"/><path d="M180,62Q220,40 260,70L240,90H190Z M300,35Q330,20 345,40L340,75H295Z M520,62Q560,50 600,60V109H520Z" fill="#5e2420"/><rect x="5" y="55" width="30" height="50" fill="#4040d0"/></svg>
<svg x="2987" y="1413" width="624" height="109" viewBox="0 0 624 109" preserveAspectRatio="none"><use href="#segL" width="624" height="109"/><path d="M0,75Q100,60 200,62L260,80Q330,72 420,70L624,65V109H0Z" fill="#7d527f"/><path d="M190,70Q330,80 460,72L480,109H240Z" fill="#c240d0"/><path d="M520,55H600V109H520Z" fill="#5e2420"/><rect x="5" y="55" width="30" height="50" fill="#4040d0"/></svg>
<svg x="3633" y="1010" width="627" height="109" viewBox="0 0 627 109" preserveAspectRatio="none"><use href="#segR" width="627" height="109"/></svg>
<svg x="3633" y="1145" width="627" height="109" viewBox="0 0 627 109" preserveAspectRatio="none"><use href="#segR" width="627" height="109"/></svg>
<svg x="3633" y="1280" width="627" height="108" viewBox="0 0 627 109" preserveAspectRatio="none"><use href="#segR" width="627" height="109"/><path d="M0,78Q300,60 627,75V109H0Z" fill="#c240d0" opacity=".7"/></svg>
<svg x="3633" y="1413" width="627" height="109" viewBox="0 0 627 109" preserveAspectRatio="none"><use href="#segR" width="627" height="109"/><path d="M0,66Q300,60 627,66V74Q300,68 0,74Z" fill="#bde98f"/><path d="M160,74H500L560,109H100Z" fill="#c240d0"/></svg>
</g>
<g fill="none" stroke="#e00000" stroke-width="5">
<rect x="2989" y="1012" width="162" height="106"/><rect x="3449" y="1012" width="160" height="106"/><rect x="3846" y="1012" width="162" height="106"/><rect x="4097" y="1012" width="160" height="106"/>
<rect x="2989" y="1147" width="162" height="106"/><rect x="3449" y="1147" width="160" height="106"/><rect x="3846" y="1147" width="162" height="106"/><rect x="4097" y="1147" width="160" height="106"/>
<rect x="2989" y="1282" width="162" height="105"/><rect x="3449" y="1282" width="160" height="105"/><rect x="3846" y="1282" width="162" height="105"/><rect x="4097" y="1282" width="160" height="105"/>
<rect x="2989" y="1415" width="162" height="106"/><rect x="3449" y="1415" width="160" height="106"/><rect x="3846" y="1415" width="162" height="106"/><rect x="4097" y="1415" width="160" height="106"/>
</g>
<g fill="#fff" font-weight="bold" font-style="italic" font-size="30">
<text x="2998" y="1046">SFDA</text><text x="3645" y="1048">SFDA</text>
<text x="2998" y="1180">DATC</text><text x="3645" y="1182">DATC</text>
<text x="2998" y="1316">Ours</text><text x="3645" y="1316">Ours</text>
<text x="2998" y="1449">GT</text><text x="3645" y="1451">GT</text>
</g>
<text x="3600" y="1562" font-size="38" text-anchor="middle" textLength="837" lengthAdjust="spacingAndGlyphs">Results on indoor Cityscapes-to-DensePASS.</text>

<g stroke="#000"><line x1="3117" y1="1746" x2="4176" y2="1746" stroke-width="3"/><line x1="3117" y1="1811" x2="4176" y2="1811" stroke-width="2"/><line x1="3117" y1="1921" x2="4176" y2="1921" stroke-width="3"/></g>
<g font-family="Liberation Serif,serif" font-size="36" text-anchor="middle">
<text x="3184" y="1790">FoV</text><text x="3315" y="1790">w/o</text><text x="3445" y="1790">60°</text><text x="3578" y="1790">72°</text><text x="3711" y="1790">90°</text><text x="3844" y="1790">120°</text><text x="3976" y="1790">180°</text><text x="4108" y="1790">360°</text>
<text x="3184" y="1854">mIoU</text><text x="3315" y="1854">38.65</text><text x="3445" y="1854">44.03</text><text x="3578" y="1854">44.16</text><text x="3711" y="1854" font-weight="bold">44.28</text><text x="3844" y="1854">44.02</text><text x="3976" y="1854">41.65</text><text x="4108" y="1854">40.31</text>
<text x="3184" y="1901">Δ</text><text x="3315" y="1901">-</text><text x="3445" y="1901">+5.38</text><text x="3578" y="1901">+5.51</text><text x="3711" y="1901" font-weight="bold">+5.63</text><text x="3844" y="1901">+5.37</text><text x="3976" y="1901">+3.00</text><text x="4108" y="1901">+1.66</text>
</g>
<g font-size="37">
<text x="3012" y="1975" textLength="1230" lengthAdjust="spacingAndGlyphs">Results show that the fixed FoV is the most influential factor in FFP,</text>
<text x="3012" y="2027" textLength="1198" lengthAdjust="spacingAndGlyphs">with an FoV of 90<tspan font-size="20" dy="-12">o</tspan><tspan dy="12"> achieving the best segmentation performance.</tspan></text>
</g>
</svg>
</body></html>
